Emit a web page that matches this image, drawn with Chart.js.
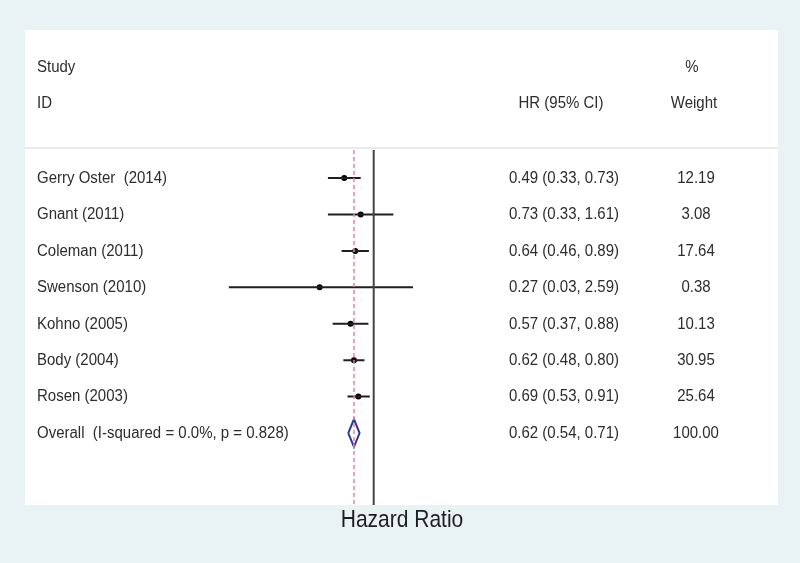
<!DOCTYPE html>
<html>
<head>
<meta charset="utf-8">
<script src="https://cdn.jsdelivr.net/npm/chart.js@4.4.1/dist/chart.umd.min.js"></script>
<style>
    body { margin: 0; background: #e9f3f6; }
    canvas { display: block; }
</style>
</head>
<body>
<canvas id="forest" width="800" height="563"></canvas>
<script>
// Datos del gráfico
const STUDIES = ['Gerry Oster  (2014)', 'Gnant (2011)', 'Coleman (2011)', 'Swenson (2010)', 'Kohno (2005)', 'Body (2004)', 'Rosen (2003)'];
const HR = [0.49, 0.73, 0.64, 0.27, 0.57, 0.62, 0.69];
const LOWER = [0.33, 0.33, 0.46, 0.03, 0.37, 0.48, 0.53];
const UPPER = [0.73, 1.61, 0.89, 2.59, 0.88, 0.80, 0.91];
const WEIGHTS = ['12.19', '3.08', '17.64', '0.38', '10.13', '30.95', '25.64'];
const OVERALL_LABEL = 'Overall  (I-squared = 0.0%, p = 0.828)';
const OVERALL = [0.62, 0.54, 0.71];
const OVERALL_WEIGHT = '100.00';

const Y_MIN = -0.77;
const Y_MAX = 8.976;
const TEXT_COLOR = '#2d2d2d';
const FONT = '15px "Liberation Sans", Arial, sans-serif';

function fmt(v) {
    return v.toFixed(2);
}

// Escribe texto algo estirado en vertical, como en la imagen original
function tallText(ctx, text, x, y, align) {
    ctx.save();
    ctx.translate(x, y);
    ctx.scale(1, 1.15);
    ctx.textAlign = align;
    ctx.fillText(text, 0, 0);
    ctx.restore();
}

// Fondo y panel blanco
const background = {
    id: 'background',
    beforeDraw(chart) {
        const ctx = chart.ctx;
        ctx.save();
        ctx.fillStyle = '#e9f3f6';
        ctx.fillRect(0, 0, chart.width, chart.height);
        ctx.fillStyle = '#ffffff';
        ctx.fillRect(25, 30, 753, 475);
        ctx.fillStyle = '#e6ebed';
        ctx.fillRect(25, 147, 753, 2);
        ctx.restore();
    }
};

// Textos de las columnas
const columns = {
    id: 'columns',
    afterDraw(chart) {
        const ctx = chart.ctx;
        const y = chart.scales.y;
        ctx.save();
        ctx.fillStyle = TEXT_COLOR;
        ctx.font = FONT;
        ctx.textBaseline = 'middle';

        tallText(ctx, 'Study', 37, 67, 'left');
        tallText(ctx, 'ID', 37, 103, 'left');
        tallText(ctx, 'HR (95% CI)', 561, 103, 'center');
        tallText(ctx, '%', 692, 67, 'center');
        tallText(ctx, 'Weight', 694, 103, 'center');

        STUDIES.forEach((name, i) => {
            const py = y.getPixelForValue(i);
            tallText(ctx, name, 37, py, 'left');
            tallText(ctx, `${fmt(HR[i])} (${fmt(LOWER[i])}, ${fmt(UPPER[i])})`, 564, py, 'center');
            tallText(ctx, WEIGHTS[i], 696, py, 'center');
        });

        const oy = y.getPixelForValue(STUDIES.length);
        tallText(ctx, OVERALL_LABEL, 37, oy, 'left');
        tallText(ctx, `${fmt(OVERALL[0])} (${fmt(OVERALL[1])}, ${fmt(OVERALL[2])})`, 564, oy, 'center');
        tallText(ctx, OVERALL_WEIGHT, 696, oy, 'center');

        ctx.fillStyle = '#1e1e1e';
        ctx.font = '21px "Liberation Sans", Arial, sans-serif';
        tallText(ctx, 'Hazard Ratio', 402, 520, 'center');
        ctx.restore();
    }
};

// Intervalos de confianza
const ciSets = STUDIES.map((s, i) => ({
    data: [{ x: LOWER[i], y: i }, { x: UPPER[i], y: i }],
    showLine: true,
    borderColor: '#1f1f1f',
    borderWidth: 2,
    pointRadius: 0
}));

const n = STUDIES.length;
const datasets = [
    {
        // línea de efecto global
        data: [{ x: OVERALL[0], y: Y_MIN }, { x: OVERALL[0], y: Y_MAX }],
        showLine: true,
        borderColor: '#ec7fae',
        borderWidth: 1.5,
        borderDash: [4, 3],
        pointRadius: 0
    },
    {
        // línea de no efecto
        data: [{ x: 1, y: Y_MIN }, { x: 1, y: Y_MAX }],
        showLine: true,
        borderColor: '#444444',
        borderWidth: 2,
        pointRadius: 0
    },
    ...ciSets,
    {
        data: HR.map((v, i) => ({ x: v, y: i })),
        pointRadius: 3,
        pointBackgroundColor: '#000000',
        pointBorderWidth: 0
    },
    {
        // diamante
        data: [
            { x: OVERALL[1], y: n },
            { x: OVERALL[0], y: n - 0.38 },
            { x: OVERALL[2], y: n },
            { x: OVERALL[0], y: n + 0.38 },
            { x: OVERALL[1], y: n }
        ],
        showLine: true,
        borderColor: '#2b3a8f',
        borderWidth: 2,
        pointRadius: 0,
        tension: 0
    }
];

const CONTEXT = document.getElementById('forest').getContext('2d');
const CHART = new Chart(CONTEXT, {
    type: 'scatter',
    data: { datasets: datasets },
    options: {
        responsive: false,
        animation: false,
        layout: { padding: { left: 183.5, right: 331.2, top: 150, bottom: 58 } },
        plugins: {
            legend: { display: false },
            tooltip: { enabled: false }
        },
        scales: {
            x: { type: 'logarithmic', min: 0.01, max: 10, display: false },
            y: { type: 'linear', min: Y_MIN, max: Y_MAX, reverse: true, display: false }
        }
    },
    plugins: [background, columns]
});
</script>
</body>
</html>
